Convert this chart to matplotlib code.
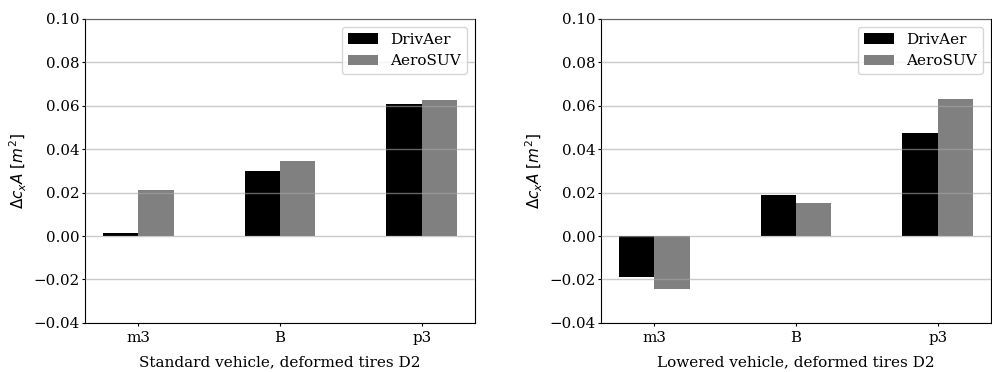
import numpy as np
from matplotlib import pyplot as plt

plt.rcParams['font.family'] = 'serif'
plt.rcParams['font.serif'] = ['DejaVu Serif']
plt.rcParams['mathtext.fontset'] = 'dejavusans'
plt.rcParams['font.size'] = 11

positions = ['m3', 'B', 'p3']
series = ['DrivAer', 'AeroSUV']
colors = ['black', 'gray']

# delta cxA [m^2] for the standard and lowered vehicle
standard_drivaer = [0.0014, 0.0299, 0.0607]
standard_aerosuv = [0.0212, 0.0345, 0.0626]
lowered_drivaer = [-0.0189, 0.0189, 0.0474]
lowered_aerosuv = [-0.0244, 0.0152, 0.0631]

panels = [
    ('Standard vehicle, deformed tires D2', [standard_drivaer, standard_aerosuv]),
    ('Lowered vehicle, deformed tires D2', [lowered_drivaer, lowered_aerosuv]),
]

fig, axes = plt.subplots(1, 2, figsize=(9.92, 3.72), dpi=100)
plt.subplots_adjust(left=0.0857, right=0.999, top=0.949, bottom=0.132, wspace=0.323)

x = np.arange(len(positions))
w = 0.25
for ax, (xlabel, values) in zip(axes, panels):
    for i, (name, vals) in enumerate(zip(series, values)):
        ax.bar(x + (i - 0.5) * w, vals, w, color=colors[i], label=name)
    ax.set_xticks(x)
    ax.set_xticklabels(positions)
    ax.set_ylim(-0.04, 0.10)
    ax.set_yticks(np.arange(-0.04, 0.101, 0.02))
    ax.tick_params(labelsize=10.8, length=2.5, pad=1.5)
    ax.tick_params(axis='x', pad=3)
    ax.yaxis.grid(True, color='#a8a8a8', alpha=0.6, linewidth=1)
    ax.set_axisbelow(False)
    ax.set_xlabel(xlabel, labelpad=7.5)
    ax.set_ylabel(r'$\Delta c_x A$ $[m^2]$', labelpad=3)
    ax.legend(loc='upper right', fontsize=11)

plt.savefig('out.png', dpi=100)
